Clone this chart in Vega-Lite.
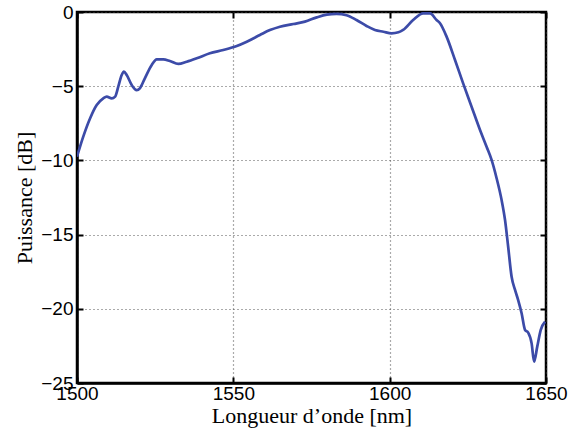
{
  "$schema": "https://vega.github.io/schema/vega-lite/v6.json",
  "width": 469,
  "height": 371,
  "autosize": "none",
  "padding": {"left": 77, "top": 12, "right": 24, "bottom": 51},
  "background": "white",
  "config": {
    "view": {"stroke": "black", "strokeWidth": 2.5},
    "axis": {
      "domainColor": "black",
      "domainWidth": 2.5,
      "tickColor": "black",
      "tickWidth": 2,
      "labelFont": "Liberation Sans",
      "labelFontSize": 19,
      "labelColor": "black",
      "labelFlush": false,
      "labelOverlap": false,
      "titleFont": "Liberation Serif",
      "titleFontSize": 22,
      "titleFontWeight": "normal",
      "titleColor": "black",
      "gridColor": "#444444",
      "gridDash": [1, 3],
      "gridWidth": 1.2,
      "gridOpacity": 0.9
    }
  },
  "data": {
    "values": [
      {"wl": 1500, "p": -9.75},
      {"wl": 1502.0, "p": -8.4},
      {"wl": 1504.2, "p": -7.16},
      {"wl": 1506.3, "p": -6.27},
      {"wl": 1508.4, "p": -5.82},
      {"wl": 1509.5, "p": -5.7},
      {"wl": 1511.1, "p": -5.82},
      {"wl": 1512.2, "p": -5.7},
      {"wl": 1513.2, "p": -5.03},
      {"wl": 1514.3, "p": -4.25},
      {"wl": 1515.0, "p": -4.02},
      {"wl": 1515.9, "p": -4.25},
      {"wl": 1517.5, "p": -4.92},
      {"wl": 1519.1, "p": -5.26},
      {"wl": 1520.1, "p": -5.14},
      {"wl": 1521.7, "p": -4.47},
      {"wl": 1523.9, "p": -3.57},
      {"wl": 1525.5, "p": -3.19},
      {"wl": 1527.6, "p": -3.19},
      {"wl": 1529.7, "p": -3.3},
      {"wl": 1532.4, "p": -3.5},
      {"wl": 1535.1, "p": -3.35},
      {"wl": 1538.3, "p": -3.12},
      {"wl": 1542.5, "p": -2.78},
      {"wl": 1546.8, "p": -2.56},
      {"wl": 1551.1, "p": -2.29},
      {"wl": 1554.3, "p": -2.0},
      {"wl": 1558.5, "p": -1.55},
      {"wl": 1561.7, "p": -1.22},
      {"wl": 1564.9, "p": -0.99},
      {"wl": 1569.2, "p": -0.81},
      {"wl": 1572.9, "p": -0.65},
      {"wl": 1576.7, "p": -0.36},
      {"wl": 1579.9, "p": -0.18},
      {"wl": 1583.0, "p": -0.13},
      {"wl": 1586.2, "p": -0.22},
      {"wl": 1589.4, "p": -0.54},
      {"wl": 1592.6, "p": -0.94},
      {"wl": 1595.3, "p": -1.21},
      {"wl": 1598.0, "p": -1.33},
      {"wl": 1600.6, "p": -1.44},
      {"wl": 1602.8, "p": -1.37},
      {"wl": 1604.3, "p": -1.21},
      {"wl": 1607.5, "p": -0.54},
      {"wl": 1610.7, "p": -0.09},
      {"wl": 1612.9, "p": -0.09},
      {"wl": 1615.0, "p": -0.54},
      {"wl": 1616.1, "p": -0.76},
      {"wl": 1618.2, "p": -1.66},
      {"wl": 1620.9, "p": -3.23},
      {"wl": 1623.5, "p": -4.81},
      {"wl": 1626.2, "p": -6.38},
      {"wl": 1628.9, "p": -7.95},
      {"wl": 1631.0, "p": -9.08},
      {"wl": 1632.6, "p": -9.97},
      {"wl": 1634.2, "p": -11.2},
      {"wl": 1635.8, "p": -12.67},
      {"wl": 1636.9, "p": -14.02},
      {"wl": 1637.9, "p": -15.82},
      {"wl": 1639.0, "p": -17.84},
      {"wl": 1640.1, "p": -18.73},
      {"wl": 1641.1, "p": -19.41},
      {"wl": 1642.2, "p": -20.3},
      {"wl": 1643.3, "p": -21.43},
      {"wl": 1644.3, "p": -21.61},
      {"wl": 1645.4, "p": -22.33},
      {"wl": 1646.2, "p": -23.56},
      {"wl": 1647.2, "p": -22.55},
      {"wl": 1648.3, "p": -21.43},
      {"wl": 1649.7, "p": -20.87}
    ]
  },
  "layer": [
    {
      "mark": {"type": "line", "strokeOpacity": 0},
      "encoding": {
        "x": {"field": "wl", "type": "quantitative",
          "scale": {"domain": [1500, 1650], "nice": false, "zero": false},
          "axis": {"orient": "top", "values": [1500, 1550, 1600, 1650], "labels": false, "title": null, "grid": false, "domain": false, "tickSize": -6}},
        "y": {"field": "p", "type": "quantitative",
          "scale": {"domain": [-25, 0], "nice": false, "zero": false},
          "axis": {"orient": "right", "values": [-25, -20, -15, -10, -5, 0], "labels": false, "title": null, "grid": false, "domain": false, "tickSize": -6}}
      }
    },
    {
      "mark": {"type": "line", "color": "#3c4ba8", "strokeWidth": 2.7, "interpolate": "monotone", "clip": true},
      "encoding": {
        "x": {"field": "wl", "type": "quantitative",
          "scale": {"domain": [1500, 1650], "nice": false, "zero": false},
          "axis": {"orient": "bottom", "values": [1500, 1550, 1600, 1650], "format": "d", "title": "Longueur d\u2019onde [nm]", "grid": true, "tickSize": -6, "labelPadding": 7, "titlePadding": 2, "labelBaseline": "top"}},
        "y": {"field": "p", "type": "quantitative",
          "scale": {"domain": [-25, 0], "nice": false, "zero": false},
          "axis": {"orient": "left", "values": [-25, -20, -15, -10, -5, 0], "title": "Puissance [dB]", "grid": true, "tickSize": -6, "labelPadding": 10, "titlePadding": 4}}
      }
    }
  ],
  "resolve": {"axis": {"x": "independent", "y": "independent"}}
}
